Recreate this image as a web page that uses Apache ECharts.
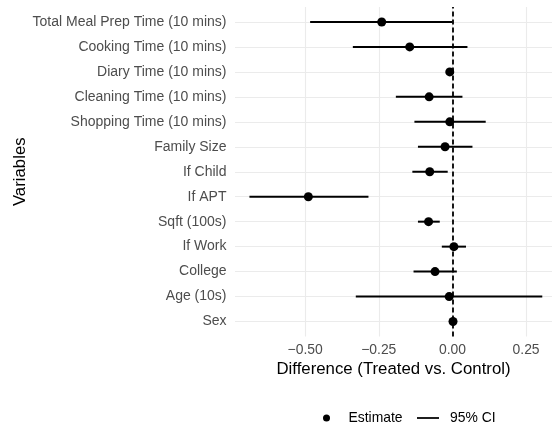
<!DOCTYPE html>
<html>
<head>
<meta charset="utf-8">
<script src="https://cdn.jsdelivr.net/npm/echarts@6/dist/echarts.min.js"></script>
<style>
  html, body { margin: 0; padding: 0; background: #fff; }
  #chart { width: 552px; height: 428px; }
</style>
</head>
<body>
<div id="chart"></div>
<script>
// Variables listed bottom to top
const variables = [
  'Sex', 'Age (10s)', 'College', 'If Work', 'Sqft (100s)', 'If APT', 'If Child',
  'Family Size', 'Shopping Time (10 mins)', 'Cleaning Time (10 mins)',
  'Diary Time (10 mins)', 'Cooking Time (10 mins)', 'Total Meal Prep Time (10 mins)'
];
const estimates = [0.002, -0.011, -0.059, 0.005, -0.081, -0.489, -0.077, -0.025, -0.009, -0.079, -0.009, -0.145, -0.240];
const ciLower  = [0.000, -0.328, -0.132, -0.036, -0.117, -0.689, -0.136, -0.117, -0.129, -0.192, -0.013, -0.338, -0.483];
const ciUpper  = [0.004,  0.305,  0.015,  0.046, -0.043, -0.285, -0.016,  0.068,  0.113,  0.034, -0.005,  0.051,  0.000];
const xTicks = [-0.5, -0.25, 0, 0.25];
const xTickLabels = ['\u22120.50', '\u22120.25', '0.00', '0.25'];

const FONT = 'Liberation Sans, Arial, Helvetica, sans-serif';
const rowIndex = variables.map((_, i) => i);

const chart = echarts.init(document.getElementById('chart'), null, { renderer: 'canvas' });

chart.setOption({
  animation: false,
  backgroundColor: '#ffffff',
  grid: {
    left: 235, right: 0, top: 7, bottom: 91.5,
    containLabel: false,
    outerBoundsMode: 'none'
  },
  xAxis: {
    type: 'value',
    min: -0.738,
    max: 0.338,
    name: 'Difference (Treated vs. Control)',
    nameLocation: 'middle',
    nameGap: 24,
    nameMoveOverlap: false,
    nameTextStyle: { fontFamily: FONT, fontSize: 16.8, color: '#000' },
    axisLine: { show: false },
    axisTick: { show: false, customValues: xTicks },
    axisLabel: {
      customValues: xTicks,
      margin: 7,
      fontFamily: FONT, fontSize: 13.9, color: '#4d4d4d',
      formatter: v => xTickLabels[xTicks.findIndex(t => Math.abs(t - v) < 1e-9)]
    },
    splitLine: { show: true, lineStyle: { color: '#ebebeb', width: 1.1 } }
  },
  yAxis: {
    type: 'value',
    min: -0.6,
    max: variables.length - 0.4,
    name: 'Variables',
    nameLocation: 'middle',
    nameRotate: 90,
    nameGap: 206,
    nameMoveOverlap: false,
    nameTextStyle: { fontFamily: FONT, fontSize: 16.8, color: '#000' },
    axisLine: { show: false },
    axisTick: { show: false, customValues: rowIndex },
    axisLabel: {
      customValues: rowIndex,
      margin: 8.5,
      fontFamily: FONT, fontSize: 14, color: '#4d4d4d',
      formatter: v => variables[Math.round(v)]
    },
    splitLine: { show: true, lineStyle: { color: '#ebebeb', width: 1.1 } }
  },
  legend: [
    {
      top: 406,
      left: 318,
      itemWidth: 34,
      itemHeight: 7,
      textStyle: { fontFamily: FONT, fontSize: 13.9, color: '#000' },
      data: [{ name: 'Estimate', icon: 'circle', itemStyle: { color: '#000' } }],
      selectedMode: false
    },
    {
      top: 406,
      left: 412,
      itemWidth: 22,
      itemHeight: 7,
      textStyle: { fontFamily: FONT, fontSize: 13.9, color: '#000', padding: [0, 0, 0, 6] },
      data: [{ name: '95% CI', icon: 'path://M0,0 H20 V1.6 H0 Z', itemStyle: { color: '#000' } }],
      selectedMode: false
    }
  ],
  series: [
    {
      name: '95% CI',
      type: 'custom',
      z: 2,
      data: variables.map((_, i) => [ciLower[i], ciUpper[i], i]),
      renderItem: (params, api) => {
        const p1 = api.coord([api.value(0), api.value(2)]);
        const p2 = api.coord([api.value(1), api.value(2)]);
        return {
          type: 'line',
          shape: { x1: p1[0], y1: p1[1], x2: p2[0], y2: p2[1] },
          style: { stroke: '#000', lineWidth: 2 }
        };
      },
      encode: { x: [0, 1], y: 2 },
      markLine: {
        silent: true,
        symbol: 'none',
        label: { show: false },
        lineStyle: { color: '#000', type: [5, 3], width: 1.8 },
        data: [{ xAxis: 0 }],
        z: 3
      }
    },
    {
      name: 'Estimate',
      type: 'scatter',
      z: 4,
      symbol: 'circle',
      symbolSize: 9,
      itemStyle: { color: '#000', opacity: 1 },
      data: variables.map((_, i) => [estimates[i], i])
    }
  ]
});
</script>
</body>
</html>
